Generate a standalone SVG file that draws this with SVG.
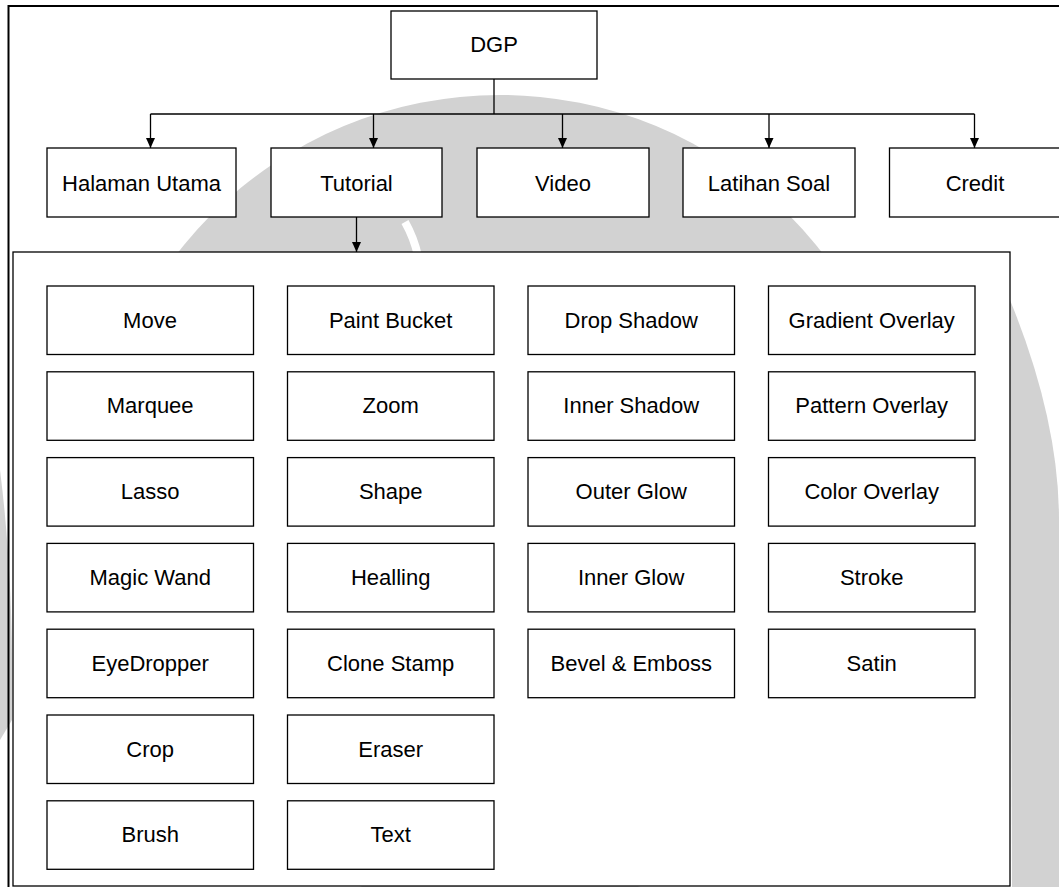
<svg xmlns="http://www.w3.org/2000/svg" width="1059" height="887" viewBox="0 0 1059 887">
<style>
.box{fill:#fff;stroke:#000;stroke-width:1.3}
.lbl{font-family:"Liberation Sans",Arial,sans-serif;font-size:22px;fill:#000;text-anchor:middle}
.con{fill:none;stroke:#000;stroke-width:1.3}
.wm{fill:#d2d2d2}
</style>
<defs>
<marker id="ah" viewBox="0 0 10 10" refX="10" refY="5" markerWidth="10" markerHeight="10" markerUnits="userSpaceOnUse" orient="auto">
<path d="M0,0.5 L10,5 L0,9.5 Z" fill="#000"/>
</marker>
</defs>
<rect width="1059" height="887" fill="#fff"/>
<g id="watermark">
<circle class="wm" cx="500" cy="503" r="408"/>
<path d="M405,222 Q414,238 418,256" fill="none" stroke="#fff" stroke-width="8"/>
<path class="wm" d="M1010,300 Q1059,420 1059,520 L1059,887 L1012,887 Z"/>
<path class="wm" d="M0,470 Q14,580 12,720 L0,740 Z"/>
</g>
<g id="frame" fill="none" stroke="#000" stroke-width="2">
<path d="M8.5,887 L8.5,6 L1059,6"/>
</g>
<g id="connectors" class="con">
<path d="M494,79 L494,114"/>
<path d="M150.5,114 L974.5,114"/>
<path d="M150.5,114 L150.5,148" marker-end="url(#ah)"/>
<path d="M373.5,114 L373.5,148" marker-end="url(#ah)"/>
<path d="M562.5,114 L562.5,148" marker-end="url(#ah)"/>
<path d="M769,114 L769,148" marker-end="url(#ah)"/>
<path d="M974.5,114 L974.5,148" marker-end="url(#ah)"/>
<path d="M356.5,217 L356.5,252" marker-end="url(#ah)"/>
</g>
<g id="n-dgp"><rect class="box" x="391" y="11" width="206" height="68"/><text class="lbl" x="494" y="52">DGP</text></g>
<g id="n-halaman"><rect class="box" x="47" y="148" width="189" height="69"/><text class="lbl" x="141.5" y="190.5">Halaman Utama</text></g>
<g id="n-tutorial"><rect class="box" x="271" y="148" width="171" height="69"/><text class="lbl" x="356.5" y="190.5">Tutorial</text></g>
<g id="n-video"><rect class="box" x="477" y="148" width="172" height="69"/><text class="lbl" x="563" y="190.5">Video</text></g>
<g id="n-latihan"><rect class="box" x="683" y="148" width="172" height="69"/><text class="lbl" x="769" y="190.5">Latihan Soal</text></g>
<g id="n-credit"><rect class="box" x="889.5" y="148" width="172" height="69"/><text class="lbl" x="975" y="190.5">Credit</text></g>
<g id="n-tools"><rect class="box" x="13" y="252" width="997" height="634"/></g>
<g id="n-move"><rect class="box" x="47" y="286" width="206.5" height="68.5"/><text class="lbl" x="250" y="327.5" transform="translate(-100,0)">Move</text></g>
<g id="n-marquee"><rect class="box" x="47" y="371.8" width="206.5" height="68.5"/><text class="lbl" x="150.2" y="413.3">Marquee</text></g>
<g id="n-lasso"><rect class="box" x="47" y="457.6" width="206.5" height="68.5"/><text class="lbl" x="150.2" y="499.1">Lasso</text></g>
<g id="n-magicwand"><rect class="box" x="47" y="543.4" width="206.5" height="68.5"/><text class="lbl" x="150.2" y="584.9">Magic Wand</text></g>
<g id="n-eyedropper"><rect class="box" x="47" y="629.2" width="206.5" height="68.5"/><text class="lbl" x="150.2" y="670.7">EyeDropper</text></g>
<g id="n-crop"><rect class="box" x="47" y="715" width="206.5" height="68.5"/><text class="lbl" x="150.2" y="756.5">Crop</text></g>
<g id="n-brush"><rect class="box" x="47" y="800.8" width="206.5" height="68.5"/><text class="lbl" x="150.2" y="842.3">Brush</text></g>
<g id="n-paintbucket"><rect class="box" x="287.5" y="286" width="206.5" height="68.5"/><text class="lbl" x="390.7" y="327.5">Paint Bucket</text></g>
<g id="n-zoom"><rect class="box" x="287.5" y="371.8" width="206.5" height="68.5"/><text class="lbl" x="390.7" y="413.3">Zoom</text></g>
<g id="n-shape"><rect class="box" x="287.5" y="457.6" width="206.5" height="68.5"/><text class="lbl" x="390.7" y="499.1">Shape</text></g>
<g id="n-healling"><rect class="box" x="287.5" y="543.4" width="206.5" height="68.5"/><text class="lbl" x="390.7" y="584.9">Healling</text></g>
<g id="n-clonestamp"><rect class="box" x="287.5" y="629.2" width="206.5" height="68.5"/><text class="lbl" x="390.7" y="670.7">Clone Stamp</text></g>
<g id="n-eraser"><rect class="box" x="287.5" y="715" width="206.5" height="68.5"/><text class="lbl" x="390.7" y="756.5">Eraser</text></g>
<g id="n-text"><rect class="box" x="287.5" y="800.8" width="206.5" height="68.5"/><text class="lbl" x="390.7" y="842.3">Text</text></g>
<g id="n-dropshadow"><rect class="box" x="528" y="286" width="206.5" height="68.5"/><text class="lbl" x="631.2" y="327.5">Drop Shadow</text></g>
<g id="n-innershadow"><rect class="box" x="528" y="371.8" width="206.5" height="68.5"/><text class="lbl" x="631.2" y="413.3">Inner Shadow</text></g>
<g id="n-outerglow"><rect class="box" x="528" y="457.6" width="206.5" height="68.5"/><text class="lbl" x="631.2" y="499.1">Outer Glow</text></g>
<g id="n-innerglow"><rect class="box" x="528" y="543.4" width="206.5" height="68.5"/><text class="lbl" x="631.2" y="584.9">Inner Glow</text></g>
<g id="n-bevel"><rect class="box" x="528" y="629.2" width="206.5" height="68.5"/><text class="lbl" x="631.2" y="670.7">Bevel &amp; Emboss</text></g>
<g id="n-gradient"><rect class="box" x="768.5" y="286" width="206.5" height="68.5"/><text class="lbl" x="871.7" y="327.5">Gradient Overlay</text></g>
<g id="n-pattern"><rect class="box" x="768.5" y="371.8" width="206.5" height="68.5"/><text class="lbl" x="871.7" y="413.3">Pattern Overlay</text></g>
<g id="n-color"><rect class="box" x="768.5" y="457.6" width="206.5" height="68.5"/><text class="lbl" x="871.7" y="499.1">Color Overlay</text></g>
<g id="n-stroke"><rect class="box" x="768.5" y="543.4" width="206.5" height="68.5"/><text class="lbl" x="871.7" y="584.9">Stroke</text></g>
<g id="n-satin"><rect class="box" x="768.5" y="629.2" width="206.5" height="68.5"/><text class="lbl" x="871.7" y="670.7">Satin</text></g>
</svg>
